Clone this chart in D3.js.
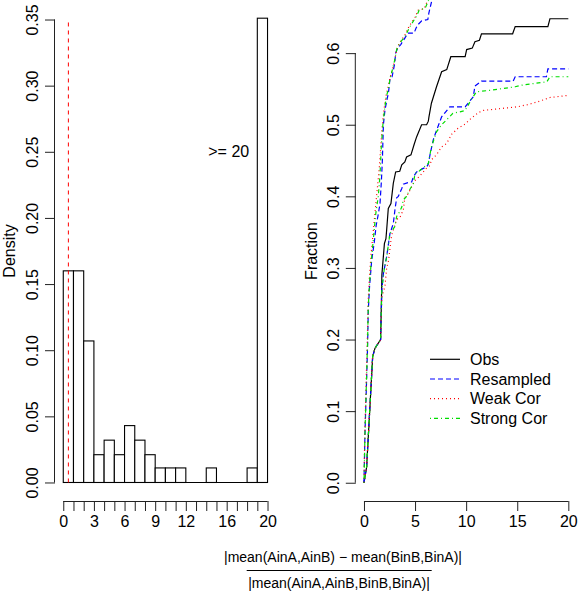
<!DOCTYPE html>
<html><head><meta charset="utf-8">
<script src="https://cdn.jsdelivr.net/npm/d3@7"></script>
<style>
body{margin:0;background:#fff}
svg{display:block}
text{font-family:"Liberation Sans",Arial,Helvetica,sans-serif;fill:#000}
</style>
</head><body>
<svg id="chart" width="578" height="591"></svg>
<script>
// ---------- DATA ----------
const binStarts = [0,1,2,3,4,5,6,7,8,9,10,11,12,13,14,15,16,17,18,19];
const binDensity = [0.160,0.160,0.107,0.021,0.032,0.021,0.043,0.032,0.021,0.011,0.011,0.011,0,0,0.011,0,0,0,0.011,0.351];
const histXTicks = [0,1,2,3,4,5,6,7,8,9,10,11,12,13,14,15,16,17,18,19,20];
const histXLabels = [0,3,6,9,12,16,20];
const histYTicks = [0,0.05,0.10,0.15,0.20,0.25,0.30,0.35];
const refLineX = 0.5;
const overflowLabel = ">= 20";

const cdfXTicks = [0,5,10,15,20];
const cdfYTicks = [0,0.1,0.2,0.3,0.4,0.5,0.6];

const obsX = [0,0.26,0.85,1.08,1.63,1.73,1.75,2.0,2.15,2.22,2.38,2.64,2.87,3.1,3.5,3.7,4.0,4.17,4.6,4.9,5.15,5.3,5.64,6.13,6.3,6.36,6.6,7.1,7.6,8.1,8.5,9.9,10.05,10.6,10.86,11.3,11.5,14.55,14.8,18.0,18.2,20];
const obsY = [0,0.022,0.176,0.188,0.2,0.27,0.29,0.334,0.341,0.353,0.383,0.39,0.418,0.434,0.435,0.444,0.448,0.455,0.458,0.472,0.483,0.488,0.5,0.5,0.505,0.511,0.53,0.553,0.574,0.577,0.595,0.595,0.605,0.607,0.616,0.618,0.627,0.627,0.637,0.637,0.648,0.648];

const resX = [0,0.26,0.85,1.08,1.63,1.75,1.9,2.22,2.54,2.87,3.03,3.2,3.36,3.7,3.85,4.5,4.67,4.83,5.15,5.8,6.13,6.3,6.46,6.8,7.1,7.6,8.4,9.9,10.7,10.86,11.5,14.6,14.8,17.85,18.0,20];
const resY = [0,0.022,0.176,0.188,0.2,0.27,0.292,0.316,0.348,0.362,0.381,0.398,0.4,0.411,0.417,0.42,0.42,0.427,0.434,0.439,0.441,0.445,0.458,0.48,0.492,0.511,0.525,0.525,0.539,0.554,0.561,0.561,0.567,0.567,0.578,0.578];

const weakX = [0,0.26,0.85,1.08,1.63,1.75,2.05,2.22,2.4,2.7,3.2,3.5,3.85,4.0,4.34,4.83,5.0,5.5,6.1,6.46,6.6,7.1,7.6,8.1,8.6,9.2,9.9,10.5,11.2,11.7,13.0,15.0,16.0,17.0,18.2,20];
const weakY = [0,0.022,0.176,0.188,0.2,0.26,0.274,0.3,0.31,0.345,0.368,0.37,0.381,0.398,0.404,0.418,0.422,0.429,0.439,0.443,0.451,0.458,0.469,0.474,0.487,0.495,0.501,0.509,0.517,0.52,0.522,0.525,0.528,0.532,0.538,0.541];

const strongX = [0,0.26,0.85,1.08,1.63,1.75,2.0,2.22,2.54,3.03,3.2,3.36,3.7,3.85,4.17,4.5,4.83,5.0,5.3,5.8,6.3,6.6,7.1,7.6,8.1,8.7,9.4,9.9,10.5,11.0,12.3,14.8,15.3,17.9,18.2,20];
const strongY = [0,0.022,0.176,0.188,0.2,0.27,0.3,0.315,0.348,0.358,0.372,0.375,0.385,0.395,0.4,0.41,0.418,0.432,0.434,0.44,0.446,0.469,0.49,0.5,0.507,0.516,0.518,0.52,0.535,0.546,0.548,0.553,0.555,0.56,0.567,0.567];

const resUpX = [0,0.1,0.25,0.35,0.42,0.55,0.75,1.0,1.2,1.4,1.57,1.7,1.8,1.9,2.05,2.25,2.4,2.55,2.75,3.0,3.1,3.3,3.6,4.0,4.3,4.9,5.1,5.3,5.65,6.25,6.35,6.75];
const resUpY = [0,0.07,0.14,0.19,0.24,0.275,0.31,0.335,0.36,0.375,0.39,0.42,0.45,0.5,0.52,0.535,0.545,0.565,0.567,0.585,0.6,0.607,0.612,0.621,0.628,0.628,0.635,0.64,0.645,0.647,0.656,0.68];

const weakUpX = [0,0.08,0.22,0.33,0.4,0.52,0.7,0.9,1.1,1.3,1.5,1.65,1.8,1.95,2.15,2.4,2.6,2.8,3.0,3.2,3.5,4.0,4.4,5.0,5.3,5.9,6.4];
const weakUpY = [0,0.07,0.145,0.2,0.25,0.285,0.32,0.35,0.38,0.41,0.44,0.47,0.5,0.52,0.54,0.555,0.568,0.578,0.59,0.605,0.615,0.625,0.637,0.65,0.66,0.662,0.68];

const strongUpX = [0,0.1,0.25,0.35,0.42,0.55,0.75,0.95,1.15,1.4,1.57,1.7,1.85,2.0,2.2,2.4,2.55,2.75,3.0,3.2,3.5,4.0,4.5,5.15,5.4,6.0,6.5];
const strongUpY = [0,0.07,0.145,0.195,0.245,0.28,0.315,0.345,0.375,0.4,0.43,0.47,0.5,0.52,0.54,0.55,0.565,0.575,0.59,0.605,0.614,0.623,0.637,0.652,0.66,0.663,0.68];

const legendLabels = ["Obs","Resampled","Weak Cor","Strong Cor"];
const legendColors = ["#000000","#0000ff","#ff0000","#00dd00"];
const legendDashes = [null,"5,3","1,3","1,3,4,3"];

const yLabelLeft = "Density";
const yLabelRight = "Fraction";
const xNumerator = "|mean(AinA,AinB) \u2212 mean(BinB,BinA)|";
const xDenominator = "|mean(AinA,AinB,BinB,BinA)|";

// ---------- DRAW ----------
const svg = d3.select("#chart");
const FS = 16;
const axisColor = "#222";

// Left panel scales (R style, 4% expansion)
const xL = d3.scaleLinear().domain([-0.8, 20.8]).range([55.1, 275.7]);
const yL = d3.scaleLinear().domain([-0.014, 0.364]).range([501, 1]);

// Histogram bars
const gL = svg.append("g");
gL.selectAll("rect.bar").data(binStarts).join("rect")
  .attr("class","bar")
  .attr("x", d => xL(d))
  .attr("width", d => xL(d+1) - xL(d))
  .attr("y", (d,i) => yL(binDensity[i]))
  .attr("height", (d,i) => yL(0) - yL(binDensity[i]))
  .attr("fill","#fff").attr("stroke","#000").attr("stroke-width",1.1);
// zero-height bins show as a baseline segment
gL.append("line")
  .attr("x1", xL(binStarts[0])).attr("x2", xL(binStarts[binStarts.length-1] + 1))
  .attr("y1", yL(0)).attr("y2", yL(0))
  .attr("stroke","#000").attr("stroke-width",1.1);

// reference dashed line
gL.append("line")
  .attr("x1", xL(refLineX)).attr("x2", xL(refLineX))
  .attr("y1", yL(0)).attr("y2", yL(0.35))
  .attr("stroke","#ff0000").attr("stroke-width",1).attr("stroke-dasharray","4,4");

// >= 20 label
gL.append("text").attr("x", xL(16.2)).attr("y", yL(0.25))
  .attr("text-anchor","middle").attr("dominant-baseline","central")
  .attr("font-size",FS).text(overflowLabel);

// Left x axis
const axXL = d3.axisBottom(xL).tickValues(histXTicks).tickSize(10).tickPadding(4)
  .tickFormat(d => histXLabels.includes(d) ? d : "");
const gAxL = svg.append("g").attr("transform","translate(0,501)").call(axXL);
gAxL.select(".domain").attr("d", `M${xL(0)},0.5H${xL(20)}`);

// Left y axis
const axYL = d3.axisLeft(yL).tickValues(histYTicks).tickSize(10).tickFormat(d3.format(".2f"));
const gAyL = svg.append("g").attr("transform","translate(55,0)").call(axYL);
gAyL.select(".domain").attr("d", `M-0.5,${yL(0)}V${yL(0.35)}`);

// Right panel scales
const xR = d3.scaleLinear().domain([-0.8, 20.8]).range([355.8, 576.5]);
const yR = d3.scaleLinear().domain([-0.02592, 0.67392]).range([501.3, 0.2]);

svg.append("clipPath").attr("id","clipR").append("rect")
  .attr("x",355.8).attr("y",0.2).attr("width",576.5-355.8).attr("height",501.1);

const gR = svg.append("g").attr("clip-path","url(#clipR)");
const line = d3.line().x(d => xR(d[0])).y(d => yR(d[1]));
const series = [
  {x: obsX, y: obsY, k: 0},
  {x: resX, y: resY, k: 1},
  {x: weakX, y: weakY, k: 2},
  {x: strongX, y: strongY, k: 3},
  {x: resUpX, y: resUpY, k: 1},
  {x: weakUpX, y: weakUpY, k: 2},
  {x: strongUpX, y: strongUpY, k: 3}
];
series.forEach(s => {
  const pts = s.x.map((v,i) => [v, s.y[i]]);
  gR.append("path").attr("d", line(pts)).attr("fill","none")
    .attr("stroke", legendColors[s.k]).attr("stroke-width",1.2)
    .attr("stroke-dasharray", legendDashes[s.k]);
});

// Right axes
const axXR = d3.axisBottom(xR).tickValues(cdfXTicks).tickSize(10).tickPadding(4);
const gAxR = svg.append("g").attr("transform","translate(0,501)").call(axXR);
gAxR.select(".domain").attr("d", `M${xR(0)},0.5H${xR(20)}`);

const axYR = d3.axisLeft(yR).tickValues(cdfYTicks).tickSize(10).tickFormat(d3.format(".1f"));
const gAyR = svg.append("g").attr("transform","translate(355.8,0)").call(axYR);
gAyR.select(".domain").attr("d", `M-0.5,${yR(0)}V${yR(0.6)}`);

// style axes
svg.selectAll(".domain, .tick line").attr("stroke", axisColor).attr("stroke-width",1);
svg.selectAll(".tick text").attr("font-size",FS).attr("fill","#000")
  .attr("font-family",'"Liberation Sans",Arial,sans-serif');
gAxL.selectAll(".tick text").attr("y",15).attr("dy","0.71em");
gAxR.selectAll(".tick text").attr("y",15).attr("dy","0.71em");
[gAyL, gAyR].forEach(g => {
  g.selectAll(".tick text")
    .attr("x",null).attr("dy",null)
    .attr("transform","translate(-17,0) rotate(-90)")
    .attr("text-anchor","middle").attr("y",0);
});

// axis titles
svg.append("text").attr("transform",`translate(15,${(1+501)/2}) rotate(-90)`)
  .attr("text-anchor","middle").attr("font-size",FS).text(yLabelLeft);
svg.append("text").attr("transform",`translate(316.5,${(1+501)/2}) rotate(-90)`)
  .attr("text-anchor","middle").attr("font-size",FS).text(yLabelRight);

// legend
const lg = svg.append("g");
legendLabels.forEach((lab,i) => {
  const y = 359.3 + i*19.7;
  lg.append("line").attr("x1",430).attr("x2",460).attr("y1",y).attr("y2",y)
    .attr("stroke",legendColors[i]).attr("stroke-width",1.2)
    .attr("stroke-dasharray",legendDashes[i]);
  lg.append("text").attr("x",470).attr("y",y).attr("dominant-baseline","central")
    .attr("font-size",FS).text(lab);
});

// x label as fraction
svg.append("text").attr("x",343).attr("y",557).attr("text-anchor","middle")
  .attr("dominant-baseline","central").attr("font-size",14).text(xNumerator);
svg.append("line").attr("x1",246.7).attr("x2",431.7).attr("y1",570.5).attr("y2",570.5)
  .attr("stroke","#000").attr("stroke-width",1);
svg.append("text").attr("x",339).attr("y",583).attr("text-anchor","middle")
  .attr("dominant-baseline","central").attr("font-size",14).text(xDenominator);
</script>
</body></html>
